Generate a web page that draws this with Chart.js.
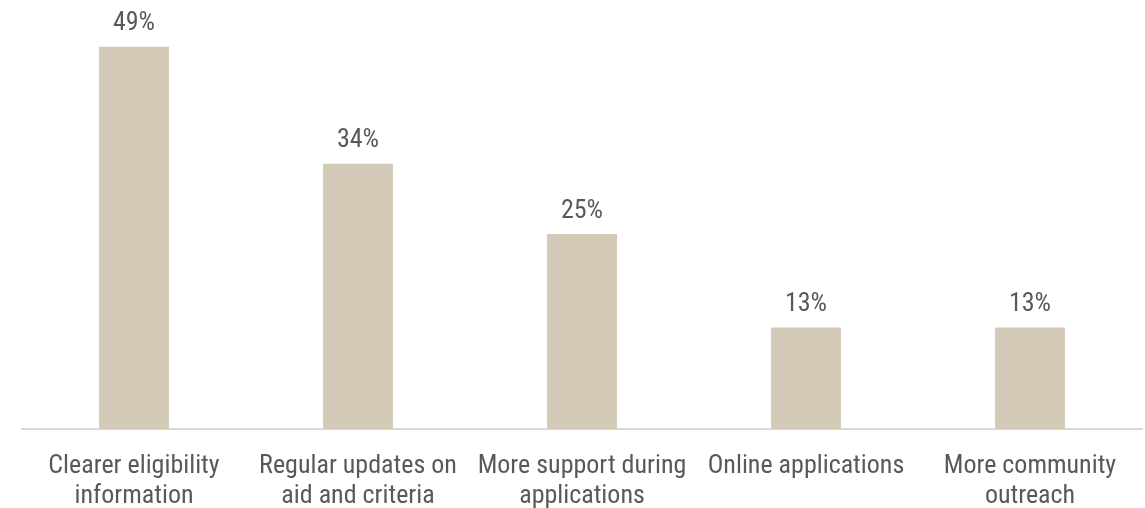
<!DOCTYPE html>
<html>
<head>
<meta charset="utf-8">
<script src="https://cdn.jsdelivr.net/npm/chart.js@4/dist/chart.umd.min.js"></script>
<style>
  html, body { margin: 0; padding: 0; background: #fff; }
  #wrap { width: 1145px; height: 508px; position: relative; }
</style>
</head>
<body>
<div id="wrap"><canvas id="c"></canvas></div>
<script>
// survey answers, share of respondents (%)
const categories = [
  ['Clearer eligibility', 'information'],
  ['Regular updates on', 'aid and criteria'],
  ['More support during', 'applications'],
  ['Online applications'],
  ['More community', 'outreach']
];
const shares = [49, 34, 25, 13, 13];

const barColor = '#d3cbb8';
const textColor = '#595959';
const fontFamily = "'Roboto Condensed', 'Liberation Sans Narrow', Roboto, sans-serif";

// value labels above each bar
const valueLabels = {
  id: 'valueLabels',
  afterDatasetsDraw(chart) {
    const ctx = chart.ctx;
    const meta = chart.getDatasetMeta(0);
    ctx.save();
    ctx.font = '26px ' + fontFamily;
    ctx.fillStyle = textColor;
    ctx.textAlign = 'center';
    ctx.textBaseline = 'middle';
    meta.data.forEach(function(bar, i){
      ctx.fillText(shares[i] + '%', bar.x, bar.y - 23);
    });
    ctx.restore();
  }
};

new Chart(document.getElementById('c'), {
  type: 'bar',
  data: {
    labels: categories,
    datasets: [{
      data: shares,
      backgroundColor: barColor,
      borderWidth: 0,
      barPercentage: 0.3125,
      categoryPercentage: 1
    }]
  },
  options: {
    responsive: true,
    maintainAspectRatio: false,
    animation: false,
    layout: { padding: { left: 22, right: 3, top: 0, bottom: 0 } },
    plugins: { legend: { display: false }, tooltip: { enabled: false } },
    scales: {
      x: {
        grid: { display: false },
        border: { color: '#d9d9d9', width: 2 },
        ticks: {
          color: textColor,
          font: { family: fontFamily, size: 26, lineHeight: 1.15 },
          padding: 15,
          maxRotation: 0,
          autoSkip: false
        },
        afterFit(scale) { scale.height = 79; }
      },
      y: {
        display: false,
        min: 0,
        max: 55
      }
    }
  },
  plugins: [valueLabels]
});
</script>
</body>
</html>
